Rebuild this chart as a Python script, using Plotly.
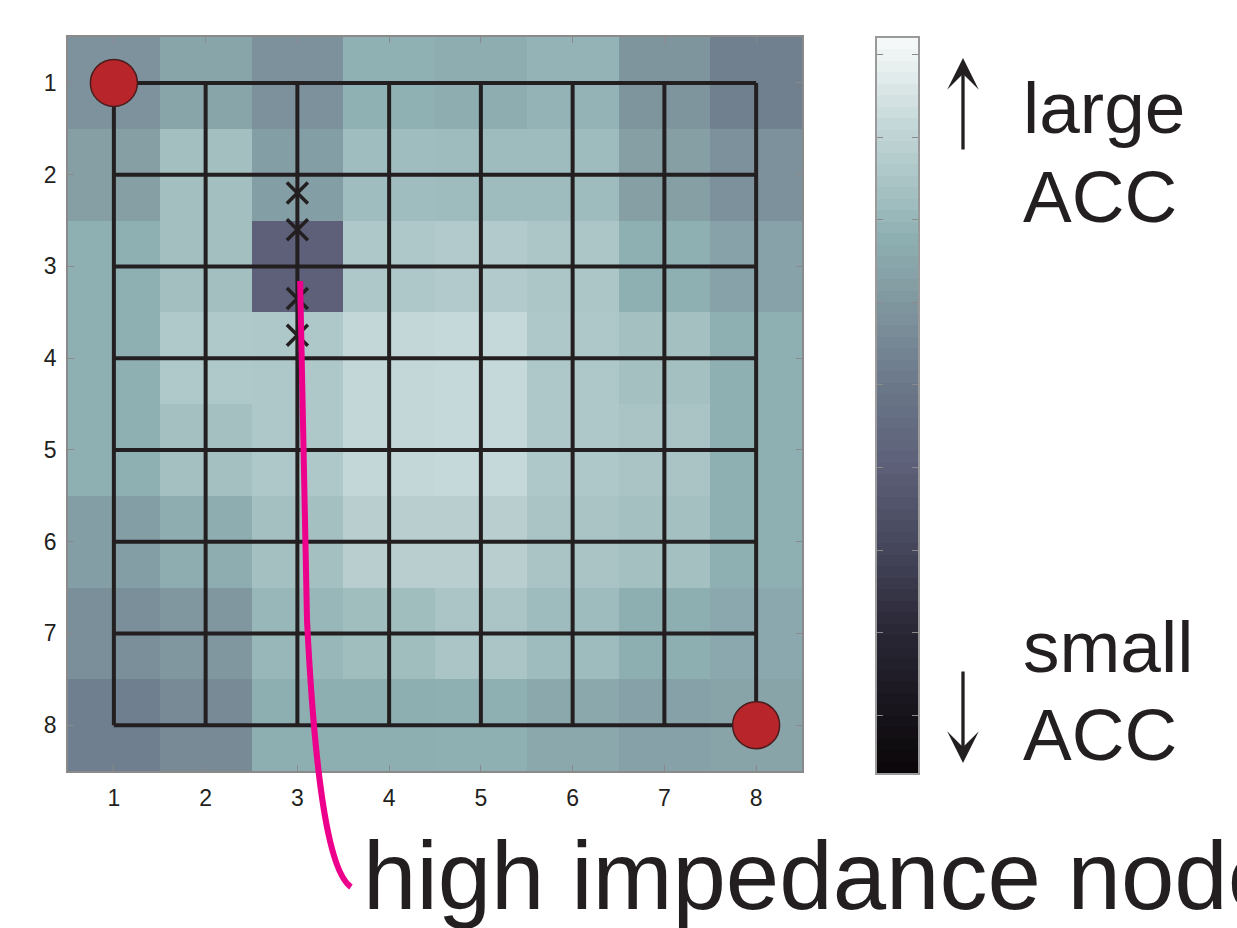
import numpy as np
import plotly.graph_objects as go

# Node grid (8 x 8) and the accumulated value (ACC) at each cell
cols = [1, 2, 3, 4, 5, 6, 7, 8]
rows = [1, 2, 3, 4, 5, 6, 7, 8]
acc = [
    [4.84, 5.44, 4.80, 5.83, 5.70, 5.89, 4.93, 4.27],
    [5.25, 6.29, 5.22, 6.19, 6.16, 6.16, 5.25, 4.81],
    [5.80, 6.29, 3.04, 6.56, 6.67, 6.53, 5.80, 5.35],
    [5.80, 6.60, 6.56, 7.13, 7.18, 6.56, 6.32, 5.80],
    [5.80, 6.32, 6.56, 7.13, 7.18, 6.56, 6.46, 5.80],
    [5.22, 5.70, 6.32, 6.82, 6.82, 6.46, 6.32, 5.80],
    [4.75, 5.00, 6.02, 6.25, 6.49, 6.16, 5.76, 5.54],
    [4.24, 4.59, 5.76, 5.76, 5.80, 5.57, 5.31, 5.41],
]

# Terminal nodes (red) and high-impedance points (crosses)
term_x = [1, 8]
term_y = [1, 8]
hi_x = [3, 3, 3, 3]
hi_y = [2.2, 2.6, 3.35, 3.75]

# Colour scale limits and colour bar ticks
cb_min, cb_max = -0.7, 8.2
cb_ticks = [0, 1, 2, 3, 4, 5, 6, 7, 8]
tick_labels = ["1", "2", "3", "4", "5", "6", "7", "8"]

# Leader curve from the faulty node to the caption (data units)
leader = [(3.03, 3.16), (3.105, 6.854), (3.181, 8.38), (3.312, 9.579), (3.584, 9.764)]

colorscale = [
    [0.00, "#0a0608"], [0.10, "#1a1720"], [0.20, "#2b2937"], [0.30, "#44455a"],
    [0.42, "#5d6078"], [0.53, "#6b788a"], [0.64, "#80979f"], [0.73, "#8fb0b3"],
    [0.80, "#a8c3c4"], [0.88, "#c4d7d8"], [0.95, "#e3ecec"], [1.00, "#f7fafa"],
]

INK = "#231f20"
FONT = "Liberation Sans, Arial, Helvetica, sans-serif"
W, H = 1237, 928

# Plot areas in paper units
xd = [68 / W, 802 / W]
yd = [(H - 771) / H, (H - 37) / H]
cbx = [877 / W, 918 / W]
cby = [(H - 773) / H, (H - 38) / H]

fig = go.Figure()

fig.add_trace(go.Heatmap(
    x=cols, y=rows, z=acc, colorscale=colorscale, zmin=cb_min, zmax=cb_max,
    showscale=False, hoverinfo="skip", xaxis="x", yaxis="y",
))

# Lattice connecting the nodes
lx, ly = [], []
for r in rows:
    lx += [cols[0], cols[-1], None]
    ly += [r, r, None]
for c in cols:
    lx += [c, c, None]
    ly += [rows[0], rows[-1], None]
fig.add_trace(go.Scatter(
    x=lx, y=ly, mode="lines", line=dict(color=INK, width=4),
    hoverinfo="skip", showlegend=False, xaxis="x", yaxis="y",
))

fig.add_trace(go.Scatter(
    x=hi_x, y=hi_y, mode="markers", cliponaxis=False,
    marker=dict(symbol="x-thin", size=21, line=dict(color=INK, width=3.5)),
    showlegend=False, xaxis="x", yaxis="y",
))

fig.add_trace(go.Scatter(
    x=term_x, y=term_y, mode="markers", cliponaxis=False,
    marker=dict(size=47, color="#b8252b", line=dict(color="#4a1c1c", width=1.5)),
    showlegend=False, xaxis="x", yaxis="y",
))

# Stepped colour bar drawn as a one-column heatmap
levels = np.linspace(cb_min, cb_max, 65)
centers = (levels[:-1] + levels[1:]) / 2
fig.add_trace(go.Heatmap(
    x=[0], y=centers, z=[[v] for v in centers], colorscale=colorscale,
    zmin=cb_min, zmax=cb_max, showscale=False, hoverinfo="skip",
    xaxis="x2", yaxis="y2",
))


def to_paper(x, y):
    px = xd[0] + (x - 0.5) / 8 * (xd[1] - xd[0])
    py = yd[1] - (y - 0.5) / 8 * (yd[1] - yd[0])
    return px, py


p = [to_paper(*pt) for pt in leader]
path = (f"M {p[0][0]},{p[0][1]} L {p[1][0]},{p[1][1]} "
        f"C {p[2][0]},{p[2][1]} {p[3][0]},{p[3][1]} {p[4][0]},{p[4][1]}")
fig.add_shape(type="path", path=path, xref="paper", yref="paper",
              line=dict(color="#ec008c", width=6), layer="above")

axis_common = dict(
    ticks="inside", ticklen=6, tickwidth=1, tickcolor="#8a8a8a",
    showline=True, linecolor="#8a8a8a", linewidth=1.5, mirror="ticks",
    showgrid=False, zeroline=False,
    tickfont=dict(family=FONT, size=23, color=INK),
)

fig.update_layout(
    width=W, height=H, margin=dict(l=0, r=0, t=0, b=0),
    paper_bgcolor="white", plot_bgcolor="white", showlegend=False,
    xaxis=dict(domain=xd, range=[0.5, 8.5], tickvals=cols, ticktext=tick_labels,
               anchor="y", ticklabelstandoff=6, **axis_common),
    yaxis=dict(domain=yd, range=[8.5, 0.5], tickvals=rows, ticktext=tick_labels,
               anchor="x", ticklabelstandoff=5, **axis_common),
    xaxis2=dict(domain=cbx, range=[-0.5, 0.5], showticklabels=False, ticks="",
                showline=True, linecolor="#9a9a9a", linewidth=1.5, mirror=True,
                showgrid=False, zeroline=False, anchor="y2"),
    yaxis2=dict(domain=cby, range=[cb_min, cb_max], tickvals=cb_ticks,
                showticklabels=False, ticks="inside", ticklen=6, tickcolor="#8a8a8a",
                showline=True, linecolor="#9a9a9a", linewidth=1.5, mirror="ticks",
                showgrid=False, zeroline=False, anchor="x2"),
)

big = dict(family=FONT, size=73, color=INK)
for txt, yb in [("large", 133), ("ACC", 222), ("small", 672), ("ACC", 760)]:
    fig.add_annotation(text=txt, xref="paper", yref="paper", x=1021 / W,
                       y=(H - (yb - 0.3465 * 73)) / H, xanchor="left",
                       yanchor="middle", showarrow=False, font=big)

fig.add_annotation(text="high impedance node", xref="paper", yref="paper",
                   x=361 / W, y=(H - (909 - 0.3465 * 96)) / H, xanchor="left",
                   yanchor="middle", showarrow=False,
                   font=dict(family=FONT, size=96, color=INK))

# Direction arrows beside the colour bar
for tip, dy in [(58, 93), (763, -93)]:
    fig.add_annotation(text="", xref="paper", yref="paper", x=963 / W,
                       y=(H - tip) / H, ax=0, ay=dy, showarrow=True,
                       arrowhead=3, arrowsize=1.6, arrowwidth=3.3,
                       arrowcolor=INK, standoff=0)

fig.write_html("out.html")
